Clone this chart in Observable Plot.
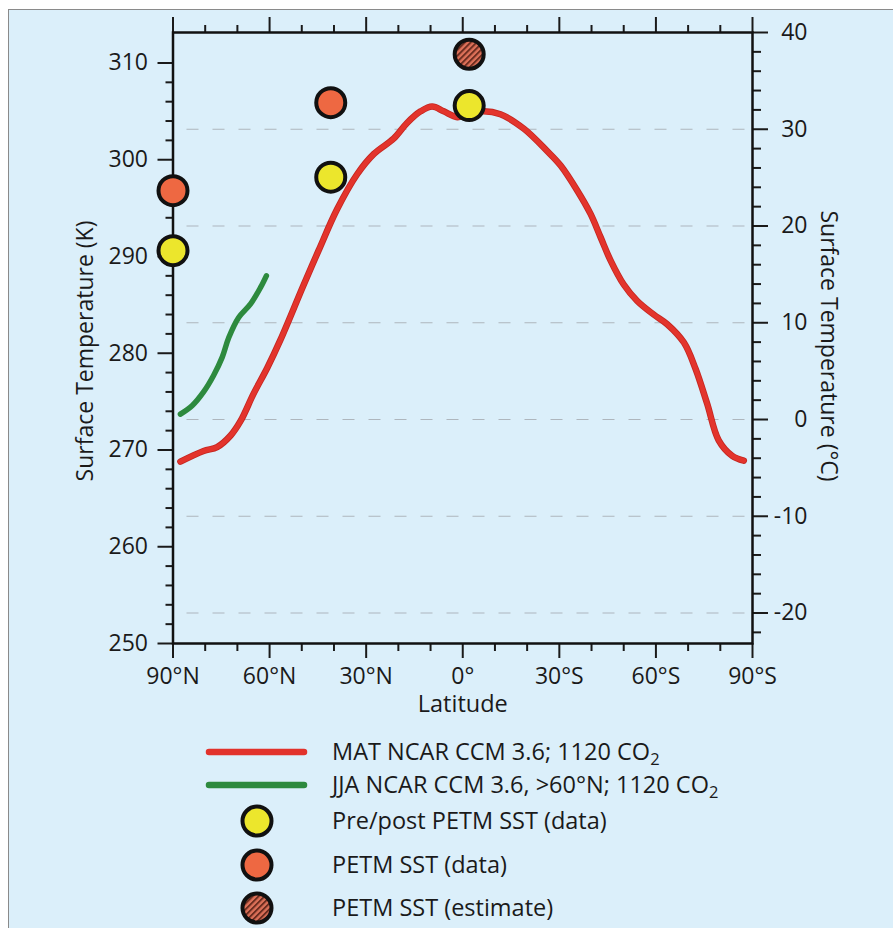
<!DOCTYPE html>
<html><head><meta charset="utf-8">
<script src="https://cdn.jsdelivr.net/npm/d3@7"></script>
<script src="https://cdn.jsdelivr.net/npm/@observablehq/plot@0.6"></script>
<style>
html,body{margin:0;padding:0;background:#fff;overflow:hidden;width:893px;height:928px;}
#panel{position:absolute;left:8px;top:9px;width:900px;height:930px;background:#dbeffa;border-left:1.5px solid #8a8a8a;border-top:1.5px solid #8a8a8a;}
#chart{position:absolute;left:0;top:0;}
#legend{position:absolute;left:0;top:720px;font-family:'Open Sans',sans-serif;}
</style></head><body>
<div id="panel"></div>
<div id="chart"></div>
<svg id="legend" width="893" height="208"></svg>
<script>
// ---- data ----
const matLat = [87.7, 80.5, 76.3, 72.1, 69.0, 65.0, 60.7, 56.6, 49.5, 44.8, 39.0, 32.8, 27.6, 21.4, 17.3, 13.1, 9.5, 5.9, 1.7, -2.0, -6.0, -11.7, -19.0, -26.2, -30.4, -35.6, -39.7, -42.8, -45.9, -50.0, -54.2, -59.3, -63.5, -68.7, -72.3, -75.9, -79.5, -83.7, -87.3];
const matT   = [268.8, 269.9, 270.3, 271.5, 273.0, 275.8, 278.5, 281.4, 287.0, 290.6, 294.9, 298.5, 300.6, 302.2, 303.8, 305.0, 305.5, 305.0, 304.4, 304.7, 305.0, 304.7, 303.2, 300.9, 299.4, 296.8, 294.4, 292.0, 289.6, 287.1, 285.4, 284.0, 283.0, 281.1, 278.4, 274.8, 271.0, 269.4, 268.9];
const jjaLat = [87.7, 84.0, 80.5, 77.4, 74.7, 72.7, 69.6, 65.9, 62.8, 61.0];
const jjaT   = [273.7, 274.6, 276.0, 277.7, 279.6, 281.6, 283.7, 285.1, 286.8, 288.0];
const preLat = [90, 41, -2];
const preT   = [290.6, 298.2, 305.6];
const petmLat = [90, 41];
const petmT   = [296.8, 305.9];
const estLat = [-2];
const estT   = [310.9];
const kMajor = [250, 260, 270, 280, 290, 300, 310];
const kMinor = d3.range(252, 310, 2).filter(v => v % 10 !== 0);
const cMajor = [40, 30, 20, 10, 0, -10, -20];
const cMinor = d3.range(-22, 40, 2).filter(v => v % 10 !== 0);
const gridC = [30, 20, 10, 0, -10, -20];
const latMajor = [90, 60, 30, 0, -30, -60, -90];
const latMinor = d3.range(-80, 90, 10).filter(v => v % 30 !== 0);
const KOFF = 273.15;
const legendItems = [
  {kind: "line", color: "#e2322b", label: "MAT NCAR CCM 3.6; 1120 CO", sub: "2"},
  {kind: "line", color: "#2d8a3e", label: "JJA NCAR CCM 3.6, >60°N; 1120 CO", sub: "2"},
  {kind: "dot", color: "#ece62c", label: "Pre/post PETM SST (data)"},
  {kind: "dot", color: "#ee6842", label: "PETM SST (data)"},
  {kind: "dot", color: "url(#hatch)", label: "PETM SST (estimate)"}
];

// ---- hatch pattern + legend ----
const leg = d3.select("#legend");
const pat = leg.append("defs").append("pattern")
  .attr("id", "hatch").attr("patternUnits", "userSpaceOnUse")
  .attr("width", 4.2).attr("height", 4.2).attr("patternTransform", "rotate(45)");
pat.append("rect").attr("width", 4.2).attr("height", 4.2).attr("fill", "#dc7058");
pat.append("rect").attr("width", 1.9).attr("height", 4.2).attr("fill", "#6a2c1f");

const rowY = [32, 65, 101, 145, 188];
legendItems.forEach((it, i) => {
  const y = rowY[i];
  if (it.kind === "line") {
    leg.append("line").attr("x1", 209).attr("x2", 304).attr("y1", y).attr("y2", y)
      .attr("stroke", it.color).attr("stroke-width", 6.5).attr("stroke-linecap", "round");
  } else {
    leg.append("circle").attr("cx", 257).attr("cy", y).attr("r", 14.5)
      .attr("fill", it.color).attr("stroke", "#111").attr("stroke-width", 4);
  }
  const t = leg.append("text").attr("x", 332).attr("y", y + 8.4)
    .attr("font-size", 23.5).attr("fill", "#1a1a1a").text(it.label);
  if (it.sub) t.append("tspan").attr("font-size", 16.5).attr("dy", 5).text(it.sub);
});

// ---- chart ----
const mat = matLat.map((d, i) => ({lat: d, t: matT[i]}));
const jja = jjaLat.map((d, i) => ({lat: d, t: jjaT[i]}));
const pre = preLat.map((d, i) => ({lat: d, t: preT[i]}));
const petm = petmLat.map((d, i) => ({lat: d, t: petmT[i]}));
const est = estLat.map((d, i) => ({lat: d, t: estT[i]}));
const latFmt = d => d === 0 ? "0°" : Math.abs(d) + "°" + (d > 0 ? "N" : "S");
const blank = () => "";

const chart = Plot.plot({
  width: 893, height: 720,
  marginLeft: 172.5, marginRight: 141, marginTop: 32, marginBottom: 77,
  style: {background: "transparent", fontFamily: "'Open Sans', sans-serif", color: "#1a1a1a", overflow: "visible"},
  x: {domain: [90, -90]},
  y: {domain: [250, 313.15]},
  marks: [
    Plot.ruleY(gridC, {y: d => d + KOFF, stroke: "#aeb6bd", strokeWidth: 1.2, strokeDasharray: "12,14", strokeDashoffset: 12}),
    Plot.axisY({anchor: "left", ticks: kMinor, tickSize: 7, tickFormat: blank, label: null, strokeWidth: 2}),
    Plot.axisY({anchor: "left", ticks: kMajor, tickSize: 15, tickPadding: 10, fontSize: 23, label: null, strokeWidth: 2}),
    Plot.axisY({anchor: "right", ticks: cMinor.map(c => c + KOFF), tickSize: 8, tickFormat: blank, label: null, strokeWidth: 2}),
    Plot.axisY({anchor: "right", ticks: cMajor.map(c => c + KOFF), tickSize: 15, tickFormat: blank, label: null, strokeWidth: 2}),
    Plot.text(cMajor, {y: d => d + KOFF, text: d => String(d), frameAnchor: "right", textAnchor: "end", dx: 55, fontSize: 23}),
    Plot.axisX({anchor: "bottom", ticks: latMinor, tickSize: 8, tickFormat: blank, label: null, strokeWidth: 2}),
    Plot.axisX({anchor: "bottom", ticks: latMajor, tickSize: 15, tickPadding: 9, tickFormat: latFmt, fontSize: 23, label: null, strokeWidth: 2}),
    Plot.axisX({anchor: "top", ticks: latMinor, tickSize: 8, tickFormat: blank, label: null, strokeWidth: 2}),
    Plot.axisX({anchor: "top", ticks: latMajor, tickSize: 16, tickFormat: blank, label: null, strokeWidth: 2}),
    Plot.frame({stroke: "#111", strokeWidth: 2.5}),
    Plot.text(["Latitude"], {text: d => d, frameAnchor: "bottom", textAnchor: "middle", lineAnchor: "middle", dy: 61, fontSize: 23.5}),
    Plot.text(["Surface Temperature (K)"], {text: d => d, frameAnchor: "left", textAnchor: "middle", lineAnchor: "middle", rotate: -90, dx: -87, dy: 13, fontSize: 23}),
    Plot.text(["Surface Temperature (°C)"], {text: d => d, frameAnchor: "right", textAnchor: "middle", lineAnchor: "middle", rotate: 90, dx: 76, dy: 8, fontSize: 23}),
    Plot.line(jja, {x: "lat", y: "t", stroke: "#2d8a3e", strokeWidth: 5.5, curve: "catmull-rom"}),
    Plot.line(mat, {x: "lat", y: "t", stroke: "#c42620", strokeWidth: 6.5, curve: "catmull-rom"}),
    Plot.line(mat, {x: "lat", y: "t", stroke: "#e3342c", strokeWidth: 4.8, curve: "catmull-rom"}),
    Plot.dot(pre, {x: "lat", y: "t", r: 14.5, fill: "#ece62c", stroke: "#111", strokeWidth: 4}),
    Plot.dot(petm, {x: "lat", y: "t", r: 14.5, fill: "#ee6842", stroke: "#111", strokeWidth: 4}),
    Plot.dot(est, {x: "lat", y: "t", r: 14.5, fill: "url(#hatch)", stroke: "#111", strokeWidth: 4})
  ]
});
document.getElementById("chart").appendChild(chart);
</script>
</body></html>
